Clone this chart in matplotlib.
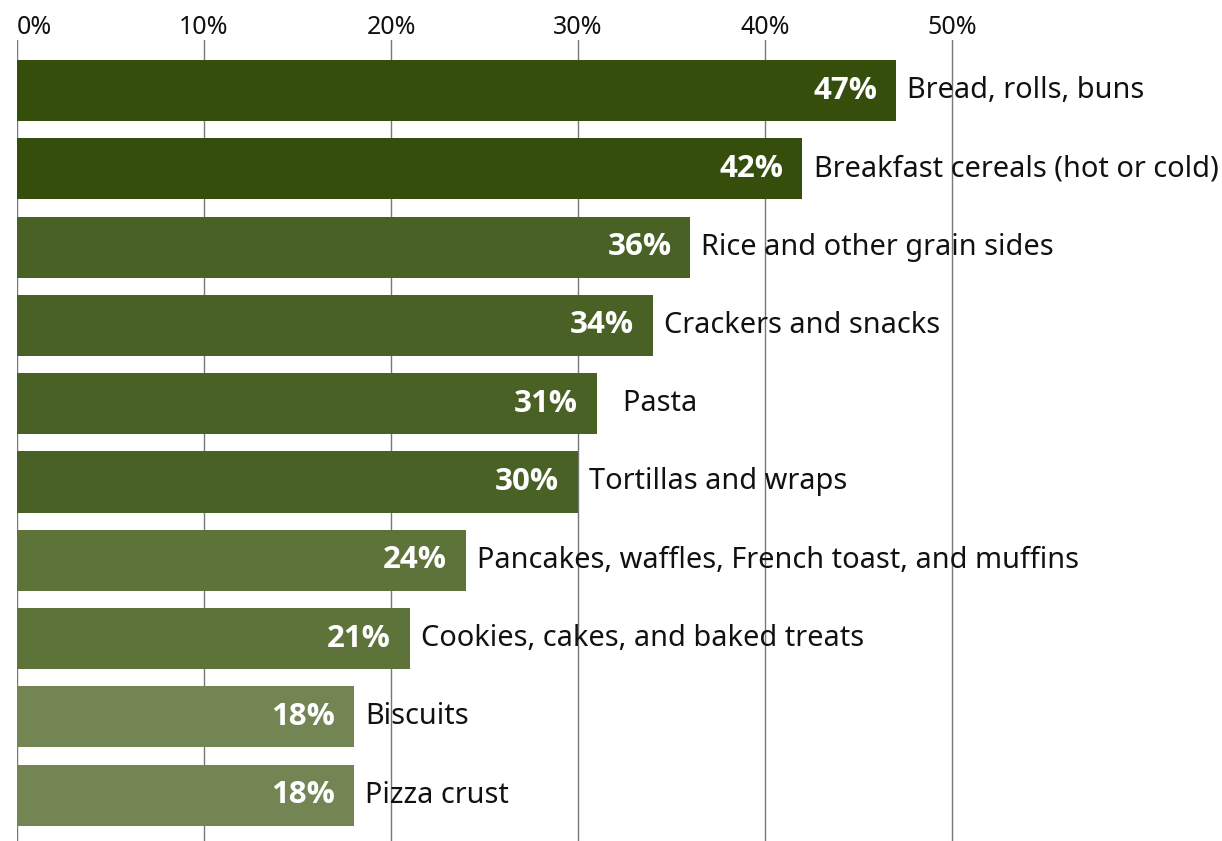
import matplotlib
matplotlib.use("Agg")
import matplotlib.pyplot as plt

# Частки по категоріях зернових продуктів
categories = [
    "Bread, rolls, buns",
    "Breakfast cereals (hot or cold)",
    "Rice and other grain sides",
    "Crackers and snacks",
    "  Pasta",
    "Tortillas and wraps",
    "Pancakes, waffles, French toast, and muffins",
    "Cookies, cakes, and baked treats",
    "Biscuits",
    "Pizza crust",
]
values = [47, 42, 36, 34, 31, 30, 24, 21, 18, 18]
colors = ["#364e0c", "#364e0c", "#4a6126", "#4a6126", "#4a6126",
          "#4a6126", "#5e733a", "#5e733a", "#728553", "#728553"]
ticks = [0, 10, 20, 30, 40, 50]
tick_labels = ["0%", "10%", "20%", "30%", "40%", "50%"]

plt.rcParams["font.family"] = ["Noto Sans", "DejaVu Sans"]

W, H = 1222, 841
fig = plt.figure(figsize=(W / 100, H / 100), dpi=100)
ax = fig.add_axes([17 / W, 0, 1 - 17 / W, (H - 40) / H])

y = list(range(len(values)))
ax.barh(y, values, height=0.78, color=colors, zorder=2)

for i, (v, name) in enumerate(zip(values, categories)):
    ax.text(v - 1.0, i, f"{v}%", ha="right", va="center", color="white",
            fontsize=22.5, fontweight="bold", family=["Open Sans", "DejaVu Sans"],
            zorder=3)
    ax.text(v + 0.6, i, name, ha="left", va="center", color="#111111",
            fontsize=20.8, zorder=3)

ax.set_xlim(0, (W - 17) / 18.7)
ax.set_ylim(9.585, -0.645)

ax.set_xticks(ticks)
ax.set_xticklabels(tick_labels, fontsize=18)
ax.xaxis.tick_top()
ax.tick_params(axis="x", length=0, pad=0, colors="#111111")
# перший підпис 0% зсунути вправо, щоб не обрізався
ax.xaxis.get_major_ticks()[0].label2.set_horizontalalignment("left")
ax.set_yticks([])
ax.grid(axis="x", color="#777777", linewidth=1.0, zorder=1)
for s in ax.spines.values():
    s.set_visible(False)

fig.savefig("out.png", dpi=100)
